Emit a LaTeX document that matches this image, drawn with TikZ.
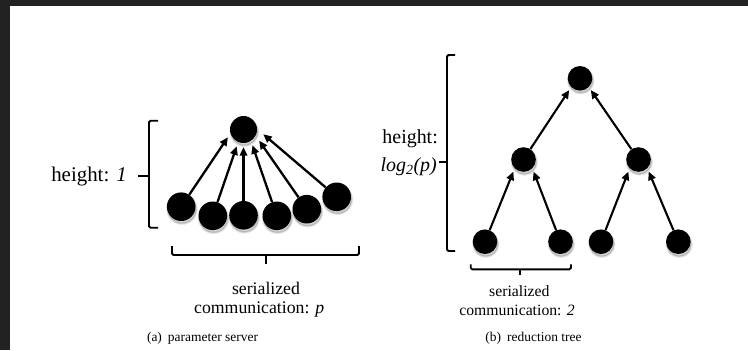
\documentclass[tikz,border=0pt]{standalone}
\usepackage{fontspec}
\setmainfont{Liberation Serif}
\usetikzlibrary{arrows.meta}
\definecolor{framedark}{HTML}{222222}
\begin{document}
\begin{tikzpicture}[x=1bp,y=-1bp,
  softshade/.style={transform canvas={xshift=0.8bp,yshift=-2.5bp}},
  dot/.style={circle,fill=black,inner sep=0pt,minimum size=#1,
    preaction={draw=black,line width=3bp,opacity=0.07,softshade},
    preaction={draw=black,line width=1.5bp,opacity=0.10,softshade},
    preaction={fill=black,opacity=0.15,softshade}},
  arr/.style={line width=2.3bp,-{Triangle[length=8.5bp,width=7.5bp]}},
  brk/.style={line width=1.9bp,rounded corners=1.5bp},
  bigtxt/.style={font=\fontsize{21}{25}\selectfont,inner sep=0pt},
  midtxt/.style={font=\fontsize{17.8}{21}\selectfont,inner sep=0pt},
  smltxt/.style={font=\fontsize{15.8}{19}\selectfont,inner sep=0pt},
  captxt/.style={font=\fontsize{13.5}{16}\selectfont,inner sep=0pt}]
\useasboundingbox (0,0) rectangle (748,350);
\fill[white] (0,0) rectangle (748,350);
% dark window edge
\fill[framedark] (0,0) rectangle (748,6);
\fill[framedark] (0,0) rectangle (10,350);

% ---------- (a) parameter server ----------
\node[dot=27bp] (ps) at (243.5,129.5) {};
\node[dot=28.6bp] (w1) at (181.2,206.7) {};
\node[dot=28.6bp] (w2) at (212.8,215.8) {};
\node[dot=28.6bp] (w3) at (243.5,215.3) {};
\node[dot=28.6bp] (w4) at (276.8,215.8) {};
\node[dot=28.6bp] (w5) at (306.8,209.2) {};
\node[dot=28.6bp] (w6) at (336.7,196.8) {};

\draw[arr,shorten >=4.5bp] (w1) -- (ps.197);
\draw[arr,shorten >=4.5bp] (w2) -- (ps.247);
\draw[arr,shorten >=4bp] (w3) -- (ps.270);
\draw[arr,shorten >=4.5bp] (w4) -- (ps.303);
\draw[arr,shorten >=6bp] (w5) -- (ps.333);
\draw[arr,shorten >=8bp] (w6) -- (ps.2);

% height bracket
\draw[brk] (158,120.7) -- (149,120.7) -- (149,227.7) -- (158,227.7);
\draw[brk] (149,176) -- (138,176);
\node[bigtxt,anchor=base east] (ha) at (127,181.7) {height: \textit{1}};

% width bracket
\draw[brk] (172,246) -- (172,255) -- (359,255) -- (359,246);
\draw[brk] (266,255) -- (266,264);
\node[midtxt,anchor=base] (sa1) at (266,294) {serialized};
\node[midtxt,anchor=base] (sa2) at (259.2,313.3) {communication: \textit{p}};

\node[captxt,anchor=base] (ca) at (202.5,341.7) {(a)\hspace{0.45em}parameter server};

% ---------- (b) reduction tree ----------
\node[dot=24.6bp] (r)  at (580,78.3) {};
\node[dot=24.6bp] (m1) at (523.5,159.5) {};
\node[dot=24.6bp] (m2) at (638.5,159.5) {};
\node[dot=24.6bp] (l1) at (485,241.7) {};
\node[dot=24.6bp] (l2) at (560.5,241.7) {};
\node[dot=24.6bp] (l3) at (601,241.7) {};
\node[dot=24.6bp] (l4) at (678.3,241.7) {};

\draw[arr,line width=2.1bp,shorten >=3.5bp] (m1) -- (r.225);
\draw[arr,line width=2.1bp,shorten >=3.5bp] (m2) -- (r.315);
\draw[arr,line width=2.1bp,shorten >=3.5bp] (l1) -- (m1.225);
\draw[arr,line width=2.1bp,shorten >=3.5bp] (l2) -- (m1.315);
\draw[arr,line width=2.1bp,shorten >=3.5bp] (l3) -- (m2.225);
\draw[arr,line width=2.1bp,shorten >=3.5bp] (l4) -- (m2.315);

% height bracket
\draw[brk] (455,55) -- (447,55) -- (447,251) -- (455,251);
\draw[brk] (447,161.7) -- (439,161.7);
\node[bigtxt,font=\fontsize{20}{24}\selectfont,anchor=base east] (hb1) at (438,143.3) {height:};
\node[bigtxt,font=\fontsize{20}{24}\selectfont,anchor=base east] (hb2) at (437,171.7) {\textit{log\textsubscript{2}(p)}};

% width bracket
\draw[brk] (470.7,264.3) -- (470.7,269.3) -- (571,269.3) -- (571,264.3);
\draw[brk] (520,269.3) -- (520,275);
\node[smltxt,anchor=base] (sb1) at (519.3,296) {serialized};
\node[smltxt,anchor=base] (sb2) at (517,315) {communication: \textit{2}};

\node[captxt,anchor=base] (cb) at (533.5,341.7) {(b)\hspace{0.45em}reduction tree};
\end{tikzpicture}
\end{document}
